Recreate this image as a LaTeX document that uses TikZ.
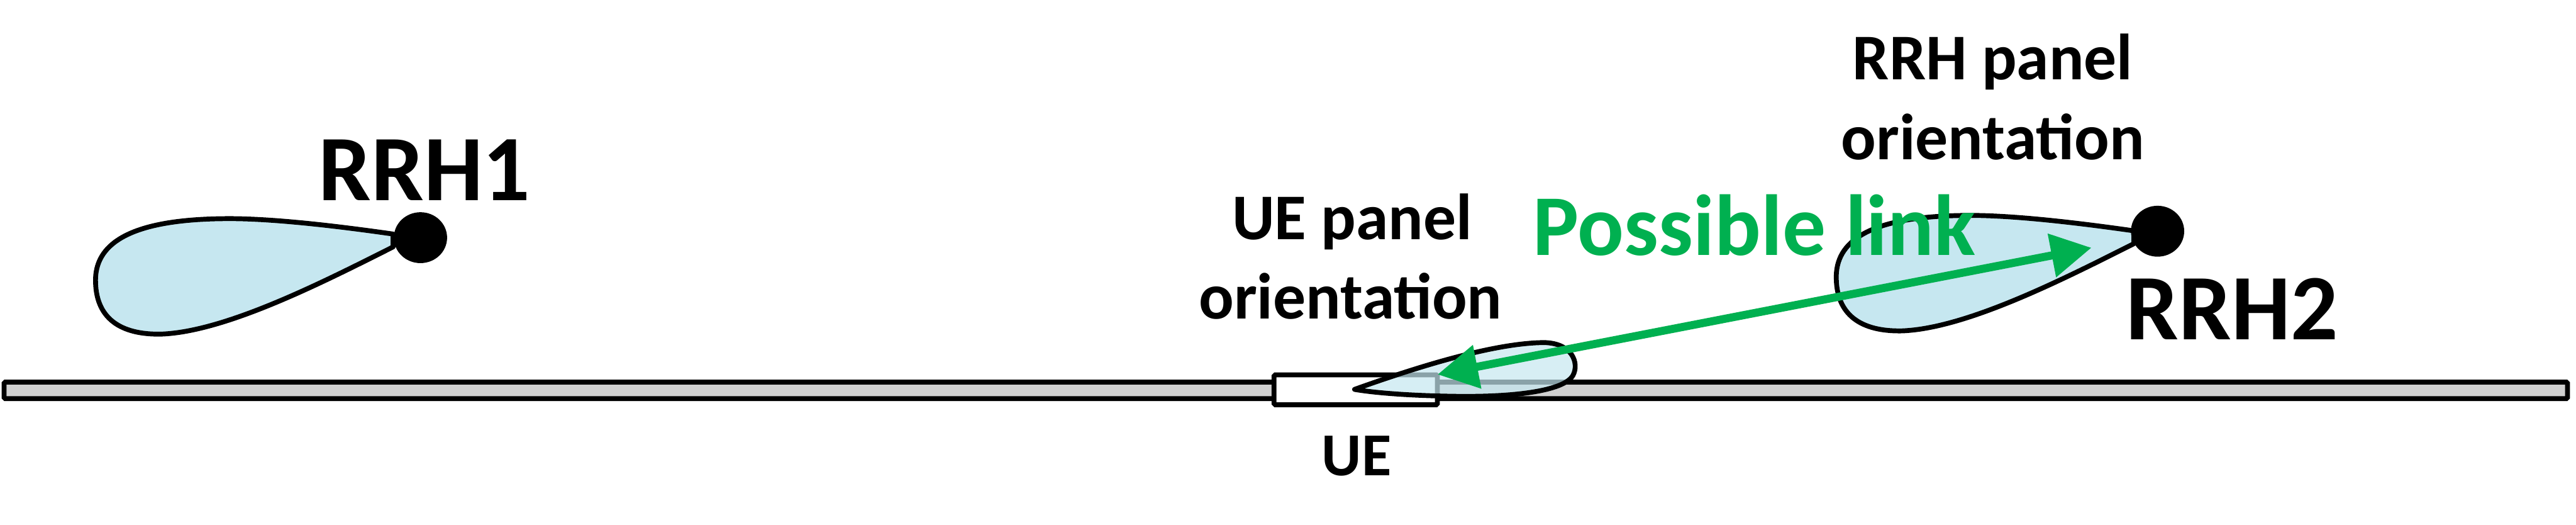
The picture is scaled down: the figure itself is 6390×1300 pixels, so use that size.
\documentclass[tikz,border=0pt]{standalone}
\usepackage{fontspec}
\setmainfont{Carlito}
\usetikzlibrary{arrows.meta,shapes.geometric}
\definecolor{lobeblue}{HTML}{C6E7F0}
\definecolor{linkgreen}{HTML}{00B050}
\definecolor{roadgray}{HTML}{D0D0D0}
\begin{document}
\begin{tikzpicture}[x=0.01cm,y=-0.01cm,
  lobe/.style={draw=black,line width=0.12cm,fill=lobeblue,line join=round},
  dotnode/.style={ellipse,fill=black,minimum width=1.32cm,minimum height=1.26cm,inner sep=0pt},
  bigtext/.style={font=\bfseries\fontsize{66}{79}\selectfont,inner sep=0pt,anchor=base},
  midtext/.style={font=\bfseries\fontsize{46}{55}\selectfont,inner sep=0pt,anchor=base},
  uetext/.style={font=\bfseries\fontsize{43}{52}\selectfont,inner sep=0pt,anchor=base},
  linktext/.style={font=\bfseries\fontsize{61}{73}\selectfont,inner sep=0pt,anchor=base,text=linkgreen},
  linkarrow/.style={draw=linkgreen,line width=0.2cm,
    {Triangle[length=1cm,width=1.05cm]}-{Triangle[length=1cm,width=1.05cm]}}
]
\useasboundingbox (0,0) rectangle (6390,1300);
% road
\draw[line width=0.12cm,fill=roadgray,rounded corners=0.03cm] (10,947) rectangle (6369,988);
% UE box
\node[draw=black,fill=white,line width=0.12cm,rounded corners=0.03cm,inner sep=0pt,minimum width=4.05cm,minimum height=0.74cm] (ue) at (3363,966) {};
% UE lobe
\path[draw=black,line width=0.12cm,line join=round,fill=lobeblue,fill opacity=0.7]
  (3360,965) .. controls (3500,915) and (3700,850) .. (3830,849)
  .. controls (3900,850) and (3918,900) .. (3902,930)
  .. controls (3880,970) and (3750,985) .. (3600,982)
  .. controls (3480,980) and (3400,972) .. (3360,965) -- cycle;
% RRH1 lobe
\path[lobe] (975,580) .. controls (800,555) and (650,540) .. (550,542)
  .. controls (330,545) and (240,600) .. (237,690)
  .. controls (235,790) and (300,830) .. (400,828)
  .. controls (560,822) and (800,700) .. (975,612) -- cycle;
\node[dotnode] (rrh1) at (1043,589) {};
% RRH2 lobe
\begin{scope}[shift={(4318,-8)}]
\path[lobe] (975,580) .. controls (800,555) and (650,540) .. (550,542)
  .. controls (330,545) and (240,600) .. (237,690)
  .. controls (235,790) and (300,830) .. (400,828)
  .. controls (560,822) and (800,700) .. (975,612) -- cycle;
\end{scope}
\node[dotnode] (rrh2) at (5352,573) {};
% texts
\node[bigtext] (t1) at (1053,497) {RRH1};
\node[bigtext] (t2) at (5537,841) {RRH2};
\node[midtext] (rp1) at (4943,198) {RRH panel};
\node[midtext] (rp2) at (4943,396) {orientation};
\node[midtext] (up1) at (3354,593) {UE panel};
\node[midtext] (up2) at (3350,790) {orientation};
\node[uetext] (uel) at (3365,1178) {UE};
\node[linktext] (lk) at (4352,632) {Possible link};
% link arrow
\coordinate (ueend) at (3566,928);
\coordinate (rrhend) at (5188,614);
\draw[linkarrow] (ueend) -- (rrhend);
\end{tikzpicture}
\end{document}
